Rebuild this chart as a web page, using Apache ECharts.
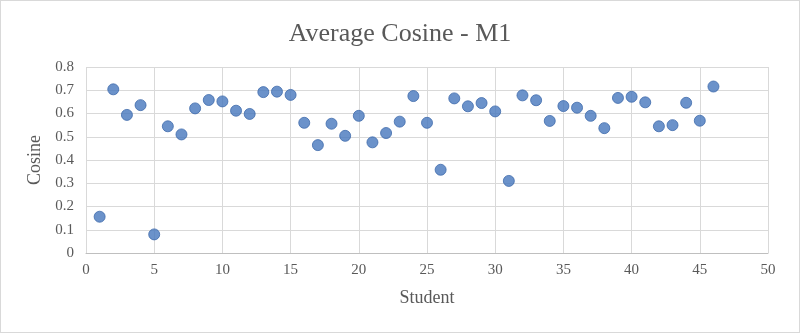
<!DOCTYPE html>
<html>
<head>
<meta charset="utf-8">
<script src="https://cdn.jsdelivr.net/npm/echarts@6/dist/echarts.min.js"></script>
<style>
  html, body { margin: 0; padding: 0; background: #fff; }
  #chart { width: 800px; height: 333px; box-sizing: border-box; border: 1px solid #d9d9d9; }
</style>
</head>
<body>
<div id="chart"></div>
<script>
// Student numbers (x) and their average cosine values (y)
const students = [1,2,3,4,5,6,7,8,9,10,11,12,13,14,15,16,17,18,19,20,21,22,23,24,25,26,27,28,29,30,31,32,33,34,35,36,37,38,39,40,41,42,43,44,45,46];
const cosines = [0.156,0.704,0.594,0.636,0.080,0.545,0.510,0.622,0.658,0.652,0.612,0.598,0.692,0.694,0.680,0.560,0.464,0.556,0.504,0.590,0.476,0.516,0.565,0.675,0.560,0.358,0.665,0.631,0.645,0.609,0.310,0.678,0.657,0.568,0.632,0.625,0.590,0.537,0.667,0.672,0.648,0.545,0.550,0.646,0.569,0.716];

const titleText = 'Average Cosine - M1';
const xName = 'Student';
const yName = 'Cosine';

const points = students.map((s, i) => [s, cosines[i]]);

const serif = '"Liberation Serif", "DejaVu Serif", serif';
const textColor = '#595959';

const chart = echarts.init(document.getElementById('chart'), null, { renderer: 'canvas' });
chart.setOption({
  animation: false,
  title: {
    text: titleText,
    left: 'center',
    top: 15,
    textStyle: { fontFamily: serif, fontSize: 26, fontWeight: 'normal', color: textColor }
  },
  grid: { left: 85, right: 31, top: 66, bottom: 79 },
  xAxis: {
    type: 'value',
    min: 0, max: 50, interval: 5,
    name: xName,
    nameLocation: 'middle',
    nameGap: 36,
    nameTextStyle: { fontFamily: serif, fontSize: 18, color: textColor },
    axisLine: { show: true, lineStyle: { color: '#bfbfbf' } },
    axisTick: { show: false },
    axisLabel: { fontFamily: serif, fontSize: 15, color: textColor, margin: 10 },
    splitLine: { show: true, lineStyle: { color: '#d9d9d9' } }
  },
  yAxis: {
    type: 'value',
    min: 0, max: 0.8, interval: 0.1,
    name: yName,
    nameLocation: 'middle',
    nameGap: 40,
    nameTextStyle: { fontFamily: serif, fontSize: 18, color: textColor },
    axisLine: { show: false },
    axisTick: { show: false },
    axisLabel: {
      fontFamily: serif, fontSize: 15, color: textColor, margin: 12,
      formatter: v => (Math.round(v * 10) / 10).toString()
    },
    splitLine: { show: true, lineStyle: { color: '#d9d9d9' } }
  },
  series: [{
    type: 'scatter',
    data: points,
    symbol: 'circle',
    symbolSize: 11,
    itemStyle: { color: '#4677bd', borderColor: '#3e6aab', borderWidth: 1 }
  }]
});
</script>
</body>
</html>
